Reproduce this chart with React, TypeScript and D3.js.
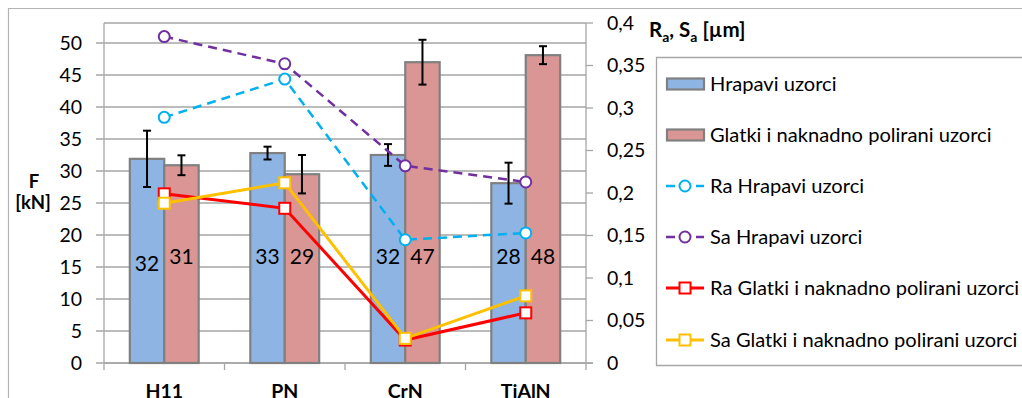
import React from "react";
import * as d3 from "d3";

const categories = ["H11", "PN", "CrN", "TiAlN"];
const forceRough = [31.9, 32.8, 32.5, 28.1];
const forceSmooth = [30.9, 29.5, 47.0, 48.1];
const errRough = [4.4, 1.0, 1.7, 3.2];
const errSmooth = [1.55, 3.0, 3.5, 1.4];
const labelsRough = ["32", "33", "32", "28"];
const labelsSmooth = ["31", "29", "47", "48"];
const labelPosRough = [15.6, 16.6, 16.6, 16.6];
const labelPosSmooth = [16.6, 16.6, 16.6, 16.6];
const raRough = [0.289, 0.334, 0.145, 0.153];
const saRough = [0.384, 0.352, 0.232, 0.213];
const raSmooth = [0.199, 0.182, 0.027, 0.059];
const saSmooth = [0.188, 0.212, 0.029, 0.079];
const leftTicks = [0, 5, 10, 15, 20, 25, 30, 35, 40, 45, 50];
const rightTicks = [0, 0.05, 0.1, 0.15, 0.2, 0.25, 0.3, 0.35, 0.4];
const legendLabels = [
  "Hrapavi uzorci",
  "Glatki i naknadno polirani uzorci",
  "Ra Hrapavi uzorci",
  "Sa Hrapavi uzorci",
  "Ra Glatki i naknadno polirani uzorci",
  "Sa Glatki i naknadno polirani uzorci",
];

const FONT = "Lato, 'Open Sans', sans-serif";
const BLUE = "#8EB4E3";
const RED = "#D99694";
const BORDER = "#808080";
const GRID = "#a6a6a6";

const lineSeries = [
  { values: raRough, color: "#00B0F0", dash: "9,6", marker: "circle" },
  { values: saRough, color: "#7030A0", dash: "9,6", marker: "circle" },
  { values: raSmooth, color: "#FF0000", dash: null, marker: "square" },
  { values: saSmooth, color: "#FFC000", dash: null, marker: "square" },
];

export default function App() {
  const left = 104, right = 586, top = 23, bottom = 363;
  const x = d3.scaleBand().domain(categories).range([left, right]).paddingInner(0).paddingOuter(0);
  const yL = d3.scaleLinear().domain([0, 53.125]).range([bottom, top]);
  const yR = d3.scaleLinear().domain([0, 0.4]).range([bottom, top]);
  const bw = x.bandwidth() / 3.5;
  const cx = (c: string) => (x(c) as number) + x.bandwidth() / 2;
  const fmtR = (v: number) => (v === 0 ? "0" : d3.format(".2~f")(v).replace(".", ","));

  const marker = (kind: string, color: string, mx: number, my: number, key: any) =>
    kind === "circle" ? (
      <circle key={key} cx={mx} cy={my} r={5.5} fill="#fff" stroke={color} strokeWidth={2} />
    ) : (
      <rect key={key} x={mx - 5.5} y={my - 5.5} width={11} height={11} fill="#fff" stroke={color} strokeWidth={2} />
    );

  const legendY = [84, 135, 186, 237, 288, 340];

  return (
    <svg width={1022} height={398} style={{ position: "absolute", left: 0, top: 0, background: "#fff" }} fontFamily={FONT}>
      <rect x={0} y={0} width={1022} height={398} fill="#fff" />
      {/* outer frame */}
      <path d="M8.5,420 V8.5 H1040" fill="none" stroke="#b3b3b3" strokeWidth={1.2} />
      {/* gridlines */}
      {leftTicks.map((t) => (
        <line key={"g" + t} x1={left - 8} x2={right} y1={yL(t)} y2={yL(t)} stroke={GRID} strokeWidth={1.3} />
      ))}
      <line x1={left} x2={right + 7} y1={bottom} y2={bottom} stroke={GRID} strokeWidth={1.3} />
      <line x1={left} x2={right} y1={top} y2={top} stroke={GRID} strokeWidth={1.3} />
      <line x1={left} x2={left} y1={top} y2={bottom} stroke={GRID} strokeWidth={1.3} />
      <line x1={right} x2={right} y1={top} y2={bottom} stroke={GRID} strokeWidth={1.3} />
      {/* category ticks */}
      {[...categories.map((c) => x(c) as number), right].map((v, i) => (
        <line key={"ct" + i} x1={v} x2={v} y1={bottom} y2={bottom + 7} stroke={GRID} strokeWidth={1.3} />
      ))}
      {/* right ticks */}
      {rightTicks.map((t) => (
        <line key={"rt" + t} x1={right} x2={right + 7} y1={yR(t)} y2={yR(t)} stroke={GRID} strokeWidth={1.3} />
      ))}
      {/* left tick labels */}
      {leftTicks.map((t) => (
        <text key={"lt" + t} x={82} y={yL(t)} dy="0.35em" textAnchor="end" fontSize={19.5} fill="#000">
          {t}
        </text>
      ))}
      {rightTicks.map((t) => (
        <text key={"rl" + t} x={607} y={yR(t)} dy="0.35em" textAnchor="start" fontSize={19.5} fill="#000">
          {fmtR(t)}
        </text>
      ))}
      {/* axis titles */}
      <text x={34} y={182} dy="0.35em" textAnchor="middle" fontSize={18.5} fontWeight="bold">F</text>
      <text x={33} y={203} dy="0.35em" textAnchor="middle" fontSize={18.5} fontWeight="bold">[kN]</text>
      <text x={649} y={30} dy="0.35em" fontSize={20.5} fontWeight="bold">
        R<tspan fontSize={14} dy="5">a</tspan>
        <tspan dy="-5">, S</tspan>
        <tspan fontSize={14} dy="5">a</tspan>
        <tspan dy="-5"> [µm]</tspan>
      </text>
      {/* category labels */}
      {categories.map((c) => (
        <text key={"cl" + c} x={cx(c)} y={391} dy="0.35em" textAnchor="middle" fontSize={19.5} fontWeight="bold">
          {c}
        </text>
      ))}
      {/* bars */}
      {categories.map((c, i) => {
        const x0 = cx(c) - bw;
        return (
          <g key={"b" + c}>
            <rect x={x0} y={yL(forceRough[i])} width={bw} height={bottom - yL(forceRough[i])} fill={BLUE} stroke={BORDER} strokeWidth={2.2} />
            <rect x={x0 + bw} y={yL(forceSmooth[i])} width={bw} height={bottom - yL(forceSmooth[i])} fill={RED} stroke={BORDER} strokeWidth={2.2} />
          </g>
        );
      })}
      {/* error bars */}
      {categories.map((c, i) => {
        const items = [
          { xm: cx(c) - bw / 2, v: forceRough[i], e: errRough[i] },
          { xm: cx(c) + bw / 2, v: forceSmooth[i], e: errSmooth[i] },
        ];
        return items.map((it, j) => (
          <g key={"e" + c + j} stroke="#000" strokeWidth={2}>
            <line x1={it.xm} x2={it.xm} y1={yL(it.v + it.e)} y2={yL(it.v - it.e)} />
            <line x1={it.xm - 4} x2={it.xm + 4} y1={yL(it.v + it.e)} y2={yL(it.v + it.e)} />
            <line x1={it.xm - 4} x2={it.xm + 4} y1={yL(it.v - it.e)} y2={yL(it.v - it.e)} />
          </g>
        ));
      })}
      {/* data labels */}
      {categories.map((c, i) => (
        <g key={"dl" + c}>
          <text x={cx(c) - bw / 2} y={yL(labelPosRough[i])} dy="0.35em" textAnchor="middle" fontSize={21}>{labelsRough[i]}</text>
          <text x={cx(c) + bw / 2} y={yL(labelPosSmooth[i])} dy="0.35em" textAnchor="middle" fontSize={21}>{labelsSmooth[i]}</text>
        </g>
      ))}
      {/* lines */}
      {lineSeries.map((s, si) => {
        const line = d3.line<number>().x((_, i) => cx(categories[i])).y((v) => yR(v));
        return (
          <g key={"ls" + si}>
            <path d={line(s.values) as string} fill="none" stroke={s.color} strokeWidth={s.dash ? 2.5 : 3} strokeDasharray={s.dash || undefined} />
            {s.values.map((v, i) => marker(s.marker, s.color, cx(categories[i]), yR(v), i))}
          </g>
        );
      })}
      {/* legend */}
      <path d="M1040,57.5 H656.5 V365.5 H1040" fill="#fff" stroke="#a6a6a6" strokeWidth={1.3} />
      {legendLabels.map((l, i) => {
        const ly = legendY[i];
        let sym: any;
        if (i === 0 || i === 1) {
          sym = <rect x={667} y={ly - 5.5} width={37} height={11} fill={i === 0 ? BLUE : RED} stroke={BORDER} strokeWidth={2.2} />;
        } else {
          const s = lineSeries[i - 2];
          sym = (
            <g>
              <line x1={666} x2={704} y1={ly} y2={ly} stroke={s.color} strokeWidth={s.dash ? 2.5 : 3} strokeDasharray={s.dash ? "9,6" : undefined} />
              {marker(s.marker, s.color, 685, ly, "m")}
            </g>
          );
        }
        return (
          <g key={"lg" + i}>
            {sym}
            <text x={710} y={ly} dy="0.35em" fontSize={20.1}>{l}</text>
          </g>
        );
      })}
    </svg>
  );
}
